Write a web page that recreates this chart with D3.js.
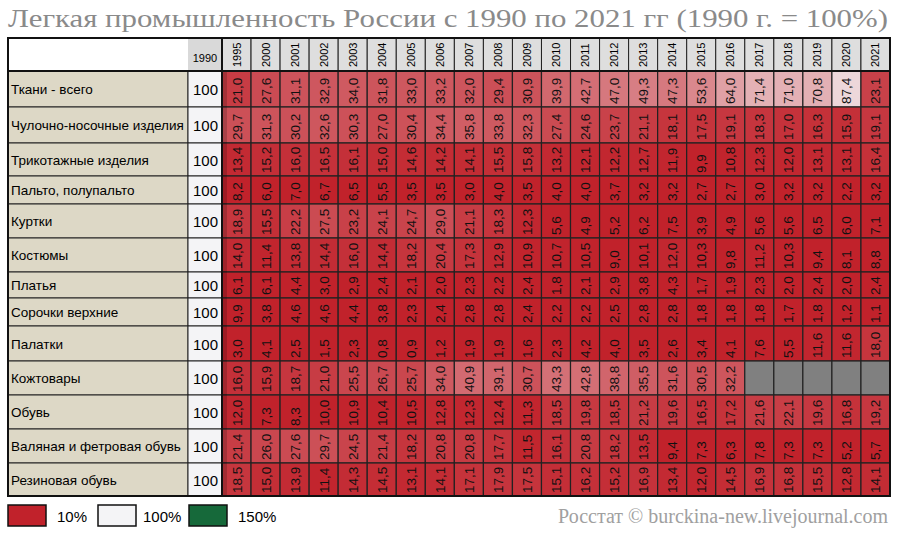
<!DOCTYPE html>
<html>
<head>
<meta charset="utf-8">
<script src="https://d3js.org/d3.v7.min.js"></script>
<style>
  body { margin: 0; background: #fff; }
  text { font-family: "Liberation Sans", Arial, sans-serif; }
</style>
</head>
<body>
<script>
const years = ["1995","2000","2001","2002","2003","2004","2005","2006","2007","2008","2009","2010","2011","2012","2013","2014","2015","2016","2017","2018","2019","2020","2021"];
const categories = ["Ткани - всего","Чулочно-носочные изделия","Трикотажные изделия","Пальто, полупальто","Куртки","Костюмы","Платья","Сорочки верхние","Палатки","Кожтовары","Обувь","Валяная и фетровая обувь","Резиновая обувь"];

const tkani     = [21.0,27.6,31.1,32.9,34.0,31.8,33.0,33.2,32.0,29.4,30.9,39.9,42.7,47.0,49.3,47.3,53.6,64.0,71.4,71.0,70.8,87.4,23.1];
const chulki    = [29.7,31.3,30.2,32.6,30.3,27.0,30.4,34.4,35.8,33.8,32.3,27.4,24.6,23.7,21.1,18.1,17.5,19.1,18.3,17.0,16.3,15.9,19.1];
const trikotazh = [13.4,15.2,16.0,16.5,16.1,15.0,14.6,14.2,14.1,15.5,15.8,13.2,12.1,12.2,12.7,11.9,9.9,10.8,12.3,12.0,13.1,13.1,16.4];
const palto     = [8.2,6.0,7.0,6.7,6.5,5.5,3.5,3.5,3.0,4.0,3.5,4.0,4.0,3.7,3.2,3.2,2.7,2.7,3.0,3.2,3.2,2.2,3.2];
const kurtki    = [18.9,15.5,22.2,27.5,23.2,24.1,24.7,29.0,21.1,18.3,12.3,5.6,4.9,5.2,6.2,7.5,3.9,4.9,5.6,5.6,6.5,6.0,7.1];
const kostyumy  = [14.0,11.4,13.8,14.4,16.0,14.4,18.2,20.4,17.3,12.9,10.9,10.7,10.5,9.0,10.1,12.0,10.3,9.8,11.2,10.3,9.4,8.1,8.8];
const platya    = [6.1,6.1,4.4,3.0,2.9,2.4,2.1,2.0,2.3,2.2,2.4,1.8,2.1,2.9,3.8,4.3,1.7,1.9,2.3,2.0,2.4,2.0,2.4];
const sorochki  = [9.9,3.8,4.6,4.6,4.4,3.8,2.3,2.4,2.8,2.8,2.4,2.2,2.2,2.5,2.8,2.8,1.8,1.8,1.8,1.7,1.8,1.2,1.1];
const palatki   = [3.0,4.1,2.5,1.5,2.3,0.8,0.9,1.2,1.9,1.9,1.6,2.3,4.2,4.0,3.5,2.6,3.4,4.1,7.6,5.5,11.6,11.6,18.0];
const kozha     = [16.0,15.9,18.7,21.0,25.5,26.7,25.7,34.0,40.9,39.1,30.7,43.3,42.8,38.8,35.5,31.6,30.5,32.2,null,null,null,null,null];
const obuv      = [12.0,7.3,8.3,10.0,10.9,10.4,10.5,12.8,12.3,12.4,11.3,18.5,19.8,18.5,21.2,19.6,16.5,17.2,21.6,22.1,19.6,16.8,19.2];
const valenki   = [21.4,26.0,27.6,29.7,24.5,21.4,18.2,20.8,20.8,17.7,11.5,16.1,20.8,18.2,13.5,9.4,7.3,6.3,7.8,7.3,7.3,5.2,5.7];
const rezina    = [18.5,15.0,13.9,11.4,14.3,14.5,13.1,14.1,17.1,17.9,17.5,15.1,16.2,15.2,16.9,13.4,12.0,14.5,16.9,16.8,15.5,12.8,14.1];
const series = [tkani,chulki,trikotazh,palto,kurtki,kostyumy,platya,sorochki,palatki,kozha,obuv,valenki,rezina];

const legendStops = [10, 100, 150];
const legendColors = ["#c1222b", "#f4f4f6", "#16693a"];

// layout (row heights differ in the original)
const rowH = [36,36,33,28,34,34,26,28,35,34,34,34,33];
const W = 900, H = 533;
const left = 8, labW = 180, baseW = 34, dataX0 = 222, dataX1 = 890, top0 = 38, headH = 33;

const svg = d3.select("body").append("svg").attr("width", W).attr("height", H);

svg.append("text").attr("x", 8).attr("y", 27)
  .attr("textLength", 880).attr("lengthAdjust", "spacingAndGlyphs")
  .style("font-family", "'Liberation Serif','DejaVu Serif',serif")
  .style("font-size", "25px").attr("fill", "#8a8a8a")
  .text("Легкая промышленность России с 1990 по 2021 гг (1990 г. = 100%)");

const x = d3.scaleBand().domain(years).range([dataX0, dataX1]);
const rowY = [];
let acc = top0 + headH;
rowH.forEach(h => { rowY.push(acc); acc += h; });
const bottom = acc;

const color = d3.scaleLinear().domain(legendStops).range(legendColors).clamp(true);

// header
svg.append("rect").attr("x", left).attr("y", top0).attr("width", labW).attr("height", headH).attr("fill", "#fff");
svg.append("rect").attr("x", left + labW).attr("y", top0).attr("width", baseW).attr("height", headH).attr("fill", "#d9d9d9");
svg.append("text").attr("x", left + labW + baseW / 2).attr("y", top0 + 24).attr("text-anchor", "middle")
  .style("font-size", "11px").text("1990");
const hdr = svg.append("g");
hdr.selectAll("rect").data(years).join("rect")
  .attr("x", d => x(d)).attr("y", top0).attr("width", x.bandwidth()).attr("height", headH)
  .attr("fill", "#dedede").attr("stroke", "#222").attr("stroke-width", 1);
hdr.selectAll("text").data(years).join("text")
  .attr("transform", d => `translate(${x(d) + x.bandwidth() / 2 + 4},${top0 + headH - 4}) rotate(-90)`)
  .style("font-size", "11px").text(d => d);

// rows
categories.forEach((c, i) => {
  const y0 = rowY[i], h = rowH[i];
  svg.append("rect").attr("x", left).attr("y", y0).attr("width", labW).attr("height", h)
    .attr("fill", "#ddd8c6").attr("stroke", "#222");
  svg.append("text").attr("x", left + 3).attr("y", y0 + h / 2 + 5).style("font-size", "13.5px").text(c);
  svg.append("rect").attr("x", left + labW).attr("y", y0).attr("width", baseW).attr("height", h)
    .attr("fill", "#f4f4f6").attr("stroke", "#222");
  svg.append("text").attr("x", left + labW + baseW - 4).attr("y", y0 + h / 2 + 6)
    .attr("text-anchor", "end").style("font-size", "15px").text("100");

  const g = svg.append("g");
  g.selectAll("rect").data(series[i]).join("rect")
    .attr("x", (d, j) => x(years[j])).attr("y", y0)
    .attr("width", x.bandwidth()).attr("height", h)
    .attr("fill", d => d == null ? "#808080" : color(d))
    .attr("stroke", "#222").attr("stroke-width", 1.2);
  g.selectAll("text").data(series[i]).join("text")
    .attr("transform", (d, j) => `translate(${x(years[j]) + x.bandwidth() / 2 + 5},${y0 + h - 3}) rotate(-90)`)
    .style("font-size", "13.5px").attr("fill", "#111")
    .text(d => d == null ? "" : d3.format(".1f")(d).replace(".", ","));
});

// outer frames and shadow
svg.append("rect").attr("x", dataX0).attr("y", top0 + headH).attr("width", 5).attr("height", bottom - top0 - headH)
  .attr("fill", "#000").attr("opacity", 0.18);
svg.append("rect").attr("x", left).attr("y", top0).attr("width", dataX0 - left).attr("height", bottom - top0)
  .attr("fill", "none").attr("stroke", "#111").attr("stroke-width", 2);
svg.append("rect").attr("x", left).attr("y", top0).attr("width", dataX1 - left).attr("height", bottom - top0)
  .attr("fill", "none").attr("stroke", "#111").attr("stroke-width", 2);
svg.append("line").attr("x1", left).attr("x2", dataX1).attr("y1", top0 + headH).attr("y2", top0 + headH)
  .attr("stroke", "#111").attr("stroke-width", 2);

// legend
const lx = [8, 98, 189];
const lab = ["10%", "100%", "150%"];
legendStops.forEach((v, i) => {
  svg.append("rect").attr("x", lx[i]).attr("y", 505).attr("width", 38).attr("height", 21)
    .attr("fill", color(v)).attr("stroke", "#111").attr("stroke-width", 1.5);
  svg.append("text").attr("x", lx[i] + (i === 1 ? 45 : 49)).attr("y", 522).style("font-size", "15px").text(lab[i]);
});
svg.append("text").attr("x", 888).attr("y", 523).attr("text-anchor", "end")
  .style("font-family", "'Liberation Serif','DejaVu Serif',serif")
  .style("font-size", "20px").attr("fill", "#a0a0a0")
  .text("Росстат © burckina-new.livejournal.com");
</script>
</body>
</html>
